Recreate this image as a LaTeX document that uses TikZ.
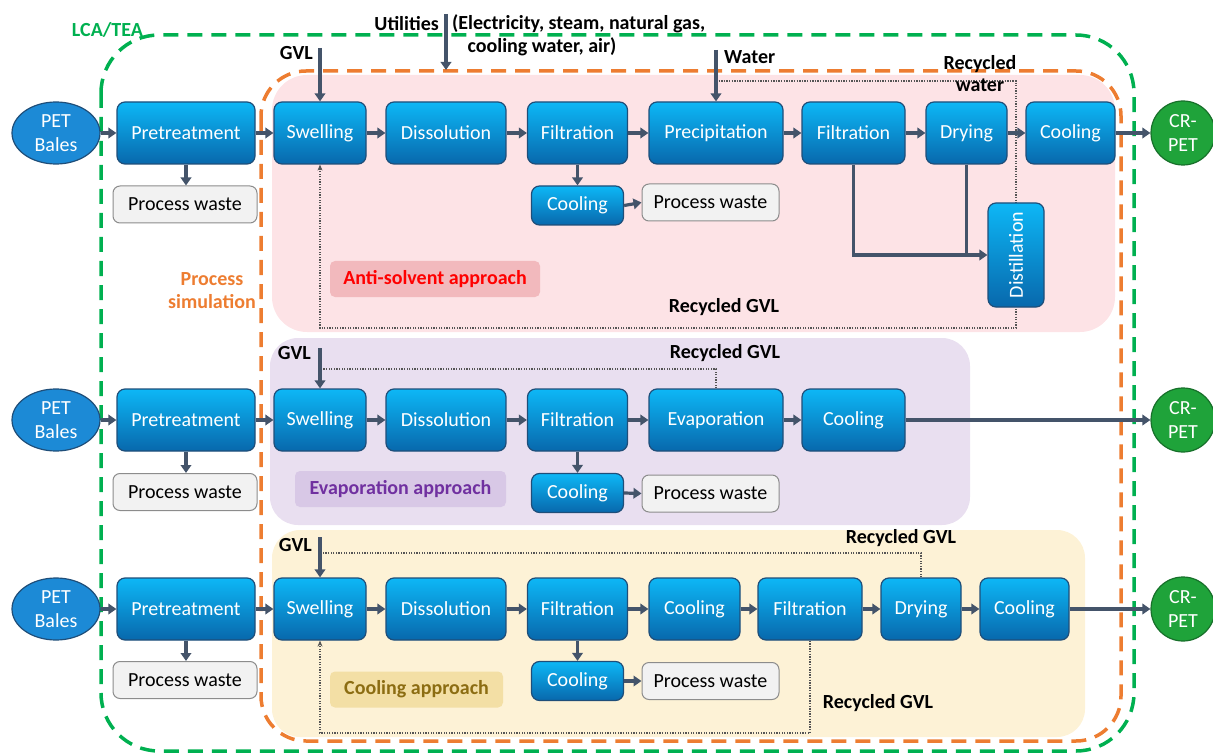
\documentclass[tikz,border=0pt]{standalone}
\usepackage{fontspec}
\setmainfont{Carlito}
\usetikzlibrary{arrows.meta,shapes.geometric}
\pgfdeclarelayer{bg}\pgfdeclarelayer{back}\pgfsetlayers{bg,back,main}
\definecolor{arrc}{HTML}{44546A}
\definecolor{boxb}{HTML}{1F4E79}
\definecolor{btop}{HTML}{0DB7F6}
\definecolor{bbot}{HTML}{0868AC}
\definecolor{ellc}{HTML}{1C8AD6}
\definecolor{crpc}{HTML}{1FA33A}
\definecolor{crpb}{HTML}{17702A}
\definecolor{wastef}{HTML}{F2F2F2}
\definecolor{wasteb}{HTML}{8C8C8C}
\definecolor{lcag}{HTML}{00B050}
\definecolor{simo}{HTML}{ED7D31}
\definecolor{pinkbg}{HTML}{FDE3E6}
\definecolor{purbg}{HTML}{E9DFF0}
\definecolor{yelbg}{HTML}{FDF2D6}
\definecolor{pinktag}{HTML}{F2B9BD}
\definecolor{purtag}{HTML}{D8C8E6}
\definecolor{yeltag}{HTML}{F3DFA5}
\definecolor{redt}{HTML}{FF0000}
\definecolor{purt}{HTML}{7030A0}
\definecolor{olvt}{HTML}{8C6D12}
\definecolor{dotc}{HTML}{555555}
\begin{document}
\begin{tikzpicture}[x=1pt,y=-1pt,
  txt/.style={font=\fontsize{20}{24}\selectfont},
  blk/.style={txt, draw=boxb, line width=1.2pt, rounded corners=8pt, top color=btop, bottom color=bbot, text=white, minimum height=62pt, inner sep=0pt},
  ell/.style={txt, ellipse, draw=boxb, line width=1.2pt, fill=ellc, text=white, minimum width=88pt, minimum height=62pt, inner sep=0pt, align=center},
  crp/.style={txt, circle, draw=crpb, line width=1.2pt, fill=crpc, text=white, minimum size=64pt, inner sep=0pt, align=center},
  waste/.style={txt, draw=wasteb, line width=1pt, fill=wastef, rounded corners=7pt, text=black, minimum height=37pt, inner sep=0pt},
  lbl/.style={font=\bfseries\fontsize{20}{23}\selectfont, inner sep=0pt, align=center},
  tag/.style={lbl, rounded corners=5pt, minimum height=36pt},
  arr/.style={draw=arrc, line width=3.2pt, -{Triangle[length=8pt,width=10.5pt]}},
  ln/.style={draw=arrc, line width=3.2pt},
  dotl/.style={draw=dotc, line width=1.3pt, dash pattern=on 1.3pt off 1.3pt},
  dasho/.style={line width=3.5pt, dash pattern=on 15pt off 9pt}]
\useasboundingbox (0,0) rectangle (1213,754);

% backgrounds
\begin{pgfonlayer}{bg}
\fill[pinkbg, rounded corners=35pt] (272,75) rectangle (1115,332);
\fill[purbg, rounded corners=28pt] (270,338) rectangle (970,525);
\fill[yelbg, rounded corners=28pt] (272,530) rectangle (1085,737);
\draw[lcag, dasho, rounded corners=58pt] (101,35) rectangle (1134,751);
\draw[simo, dasho, rounded corners=45pt] (261,71) rectangle (1121,741);
\end{pgfonlayer}

% labels
\node[lbl, text=lcag] (lca) at (107.5,30) {LCA/TEA};
\node[lbl, text=simo, font=\bfseries\fontsize{20}{23}\selectfont] (psim) at (212,291) {Process\\simulation};
\node[lbl, anchor=east] (utl) at (439,24) {Utilities};
\node[lbl, anchor=west] (utl2) at (452,24) {(Electricity, steam, natural gas,};
\node[lbl] (utl3) at (542,47) {cooling water, air)};
\node[lbl, anchor=west] (wat) at (724,57) {Water};
\node[lbl, font=\bfseries\fontsize{20}{22}\selectfont] (rwt) at (980,74) {Recycled\\water};
\node[lbl, anchor=east] (gv1) at (313,53) {GVL};
\node[lbl, anchor=east] (gv2) at (311,353) {GVL};
\node[lbl, anchor=east] (gv3) at (312,545) {GVL};
\node[lbl] (rg1) at (724,307) {Recycled GVL};
\node[lbl] (rg2) at (725,353) {Recycled GVL};
\node[lbl] (rg3) at (901,538) {Recycled GVL};
\node[lbl] (rg4) at (878,703) {Recycled GVL};
\node[tag, fill=pinktag, text=redt, minimum width=210pt] (tg1) at (435,279) {Anti-solvent approach};
\node[tag, fill=purtag, text=purt, minimum width=211pt] (tg2) at (400.5,489) {Evaporation approach};
\node[tag, fill=yeltag, text=olvt, minimum width=173pt] (tg3) at (416.5,689.5) {Cooling approach};

% row 1
\node[ell] (pet1) at (56,133) {PET\\Bales};
\node[blk, minimum width=138pt] (pre1) at (186,133) {Pretreatment};
\node[waste, minimum width=144pt] (pw1a) at (185,204.5) {Process waste};
\node[blk, minimum width=92pt] (sw1) at (320,133) {Swelling};
\node[blk, minimum width=120pt] (dis1) at (446,133) {Dissolution};
\node[blk, minimum width=100pt] (fil1) at (577.5,133) {Filtration};
\node[blk, minimum width=134pt] (prc1) at (716,133) {Precipitation};
\node[blk, minimum width=103pt] (fil1b) at (853.5,133) {Filtration};
\node[blk, minimum width=81pt] (dry1) at (966.5,133) {Drying};
\node[blk, minimum width=89pt] (col1) at (1070.5,133) {Cooling};
\node[crp] (cr1) at (1183,133) {CR-\\PET};
\node[blk, minimum width=92pt, minimum height=39pt] (cs1) at (577.5,205.5) {Cooling};
\node[waste, minimum width=137pt] (pw1b) at (710.5,202.5) {Process waste};
\node[blk, minimum width=56pt, minimum height=104pt] (dst) at (1016,255) {\rotatebox{90}{Distillation}};

% row 2
\node[ell] (pet2) at (56,420) {PET\\Bales};
\node[blk, minimum width=138pt] (pre2) at (186,420) {Pretreatment};
\node[waste, minimum width=144pt] (pw2a) at (185,492) {Process waste};
\node[blk, minimum width=92pt] (sw2) at (320,420) {Swelling};
\node[blk, minimum width=120pt] (dis2) at (446,420) {Dissolution};
\node[blk, minimum width=100pt] (fil2) at (577.5,420) {Filtration};
\node[blk, minimum width=134pt] (evp2) at (716,420) {Evaporation};
\node[blk, minimum width=103pt] (col2) at (853.5,420) {Cooling};
\node[crp] (cr2) at (1183,420) {CR-\\PET};
\node[blk, minimum width=92pt, minimum height=39pt] (cs2) at (577.5,493) {Cooling};
\node[waste, minimum width=137pt] (pw2b) at (710.5,493.5) {Process waste};

% row 3
\node[ell] (pet3) at (56,609) {PET\\Bales};
\node[blk, minimum width=138pt] (pre3) at (186,609) {Pretreatment};
\node[waste, minimum width=144pt] (pw3a) at (185,680) {Process waste};
\node[blk, minimum width=92pt] (sw3) at (320,609) {Swelling};
\node[blk, minimum width=120pt] (dis3) at (446,609) {Dissolution};
\node[blk, minimum width=100pt] (fil3) at (577.5,609) {Filtration};
\node[blk, minimum width=91pt] (col3a) at (694.5,609) {Cooling};
\node[blk, minimum width=104pt] (fil3b) at (810,609) {Filtration};
\node[blk, minimum width=80pt] (dry3) at (921,609) {Drying};
\node[blk, minimum width=89pt] (col3b) at (1024.5,609) {Cooling};
\node[crp] (cr3) at (1183,609) {CR-\\PET};
\node[blk, minimum width=92pt, minimum height=39pt] (cs3) at (577.5,681) {Cooling};
\node[waste, minimum width=137pt] (pw3b) at (710.5,681) {Process waste};

% main flow arrows
\foreach \a/\b in {pet1/pre1, pre1/sw1, sw1/dis1, dis1/fil1, fil1/prc1, prc1/fil1b, fil1b/dry1, dry1/col1, col1/cr1,
                   pet2/pre2, pre2/sw2, sw2/dis2, dis2/fil2, fil2/evp2, evp2/col2, col2/cr2,
                   pet3/pre3, pre3/sw3, sw3/dis3, dis3/fil3, fil3/col3a, col3a/fil3b, fil3b/dry3, dry3/col3b, col3b/cr3}
  \draw[arr] (\a.east) -- (\b.west);
\foreach \r in {1,2,3}{
  \draw[arr] (pre\r.south) -- (pre\r.south |- pw\r a.north);
  \draw[arr] (fil\r.south) -- (cs\r.north);
  \draw[arr] (cs\r.east) -- (pw\r b.west);
}
\draw[arr] (fil1b.south) |- (dst.west);
\draw[ln] (dry1.south) -- (dry1.south |- dst.west);

% inputs
\coordinate (g1) at (320,48);
\coordinate (g2) at (320,348);
\coordinate (g3) at (320,537);
\draw[arr] (g1) -- (sw1.north);
\draw[arr] (g2) -- (sw2.north);
\draw[arr] (g3) -- (sw3.north);
\coordinate (w0) at (716,50);
\draw[arr] (w0) -- (prc1.north);
\coordinate (u0) at (446,14);
\coordinate (u1) at (446,70);
\draw[arr] (u0) -- (u1);

% recycle loops
\coordinate (rwa) at (716,81);
\coordinate (rwb) at (1016,81);
\coordinate (rwc) at (1016,328);
\coordinate (rwd) at (320,328);
\coordinate (r2) at (320,369);
\coordinate (r3a) at (320,553);
\coordinate (r3b) at (320,733);
\begin{pgfonlayer}{back}
\draw[dotl, -{Stealth[length=6pt,width=5pt]}] (rwa) -- (rwb) -- (rwc) -- (rwd) -- (sw1.south);
\draw[dotl] (evp2.north) |- (r2);
\draw[dotl] (dry3.north) |- (r3a);
\draw[dotl, -{Stealth[length=6pt,width=5pt]}] (fil3b.south) |- (r3b) -- (sw3.south);
\end{pgfonlayer}
\end{tikzpicture}
\end{document}
